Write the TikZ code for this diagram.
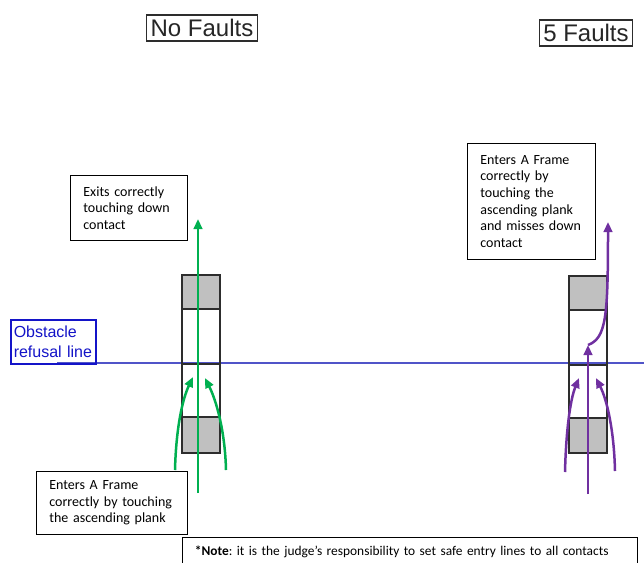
\documentclass[tikz,border=0pt]{standalone}
\usepackage{fontspec}
\setmainfont{Carlito}
\newfontfamily\arialfont{Liberation Sans}
\usepackage{tikz}
\usetikzlibrary{arrows.meta, positioning}
\frenchspacing
\definecolor{gogreen}{RGB}{0,176,80}
\definecolor{gopurple}{RGB}{112,48,160}
\definecolor{refblue}{RGB}{20,20,200}
\definecolor{lineblue}{RGB}{80,84,200}
\definecolor{framegray}{RGB}{192,192,192}
\definecolor{edgegray}{RGB}{45,45,45}
\tikzstyle{headbox} = [draw=edgegray, line width=1.5pt, inner sep=4pt, text=black!85, font=\arialfont\fontsize{24}{28}\selectfont]
\tikzstyle{callout} = [draw, line width=0.8pt, anchor=north west, align=left, inner xsep=13pt, inner ysep=0pt, font=\fontsize{14}{16.7}\selectfont]
\tikzstyle{refbox} = [draw=refblue, line width=1.5pt, text=refblue, anchor=north west, align=left, inner xsep=3pt, inner ysep=0pt, text width=79pt, minimum height=44pt, font=\arialfont\fontsize{16}{19.5}\selectfont]
\tikzstyle{frame} = [draw=edgegray, line width=1.5pt]
\tikzstyle{gline} = [draw=gogreen, line width=2.5pt, -{Triangle[length=10pt, width=8.5pt]}]
\tikzstyle{pline} = [draw=gopurple, line width=2.5pt, -{Triangle[length=10pt, width=8.5pt]}]

\begin{document}
\begin{tikzpicture}[x=1pt, y=-1pt]
	\path [use as bounding box, clip] (0, 0) rectangle (644, 562);
	\fill [white] (0, 0) rectangle (644, 562);

	\node [headbox] (nofaults) at (202, 28) {No Faults};
	\node [headbox] (fivefaults) at (586, 33) {5 Faults};

	\path [draw=lineblue, line width=1.5pt] (57, 363) -- (644, 363);
	\node [refbox] (refusal) at (10, 319) {Obstacle\\refusal line};

	\path [frame, fill=framegray] (182, 275) rectangle (220, 309);
	\path [frame] (182, 309) rectangle (220, 364);
	\path [frame] (182, 364) rectangle (220, 417);
	\path [frame, fill=framegray] (182, 417) rectangle (220, 453);

	\path [frame, fill=framegray] (569, 276) rectangle (607, 310);
	\path [frame] (569, 310) rectangle (607, 365);
	\path [frame] (569, 365) rectangle (607, 418);
	\path [frame, fill=framegray] (569, 418) rectangle (607, 453);

	\coordinate (gls) at (175, 470);
	\coordinate (glt) at (193, 377);
	\coordinate (grs) at (226, 470);
	\coordinate (grt) at (205, 378);
	\coordinate (gcs) at (198, 493);
	\coordinate (gct) at (198, 219);

	\path [gline] (gls) .. controls (176, 430) and (182, 400) .. (glt);
	\path [gline] (grs) .. controls (225, 430) and (216, 400) .. (grt);
	\path [gline] (gcs) -- (gct);

	\coordinate (pls) at (565, 472);
	\coordinate (plt) at (579, 378);
	\coordinate (prs) at (615, 471);
	\coordinate (prt) at (596, 378);
	\coordinate (pcs) at (588, 494);
	\coordinate (pct) at (588, 345);
	\coordinate (pht) at (608, 222);

	\path [pline] (pls) .. controls (566, 432) and (570, 400) .. (plt);
	\path [pline] (prs) .. controls (614, 430) and (607, 400) .. (prt);
	\path [pline] (pcs) -- (pct);
	\path [pline] (pct) .. controls (606, 338) and (608, 318) .. (pht);

	\node [callout, text width=91pt, minimum height=65pt] (exitnote) at (70, 175) {Exits correctly\\touching down\\contact};
	\node [callout, text width=125pt, minimum height=63pt] (enterleft) at (36, 471) {Enters A Frame\\correctly by touching\\the ascending plank};
	\node [callout, text width=102pt, minimum height=116pt] (enterright) at (467, 143) {Enters A Frame\\correctly by\\touching the\\ascending plank\\and misses down\\contact};
	\node [callout, inner xsep=12.5pt, text width=430pt, minimum height=28pt, font=\fontsize{13.4}{16}\selectfont] (judgenote) at (182, 537) {\textbf{*Note}: it is the judge’s responsibility to set safe entry lines to all contacts};
\end{tikzpicture}
\end{document}
